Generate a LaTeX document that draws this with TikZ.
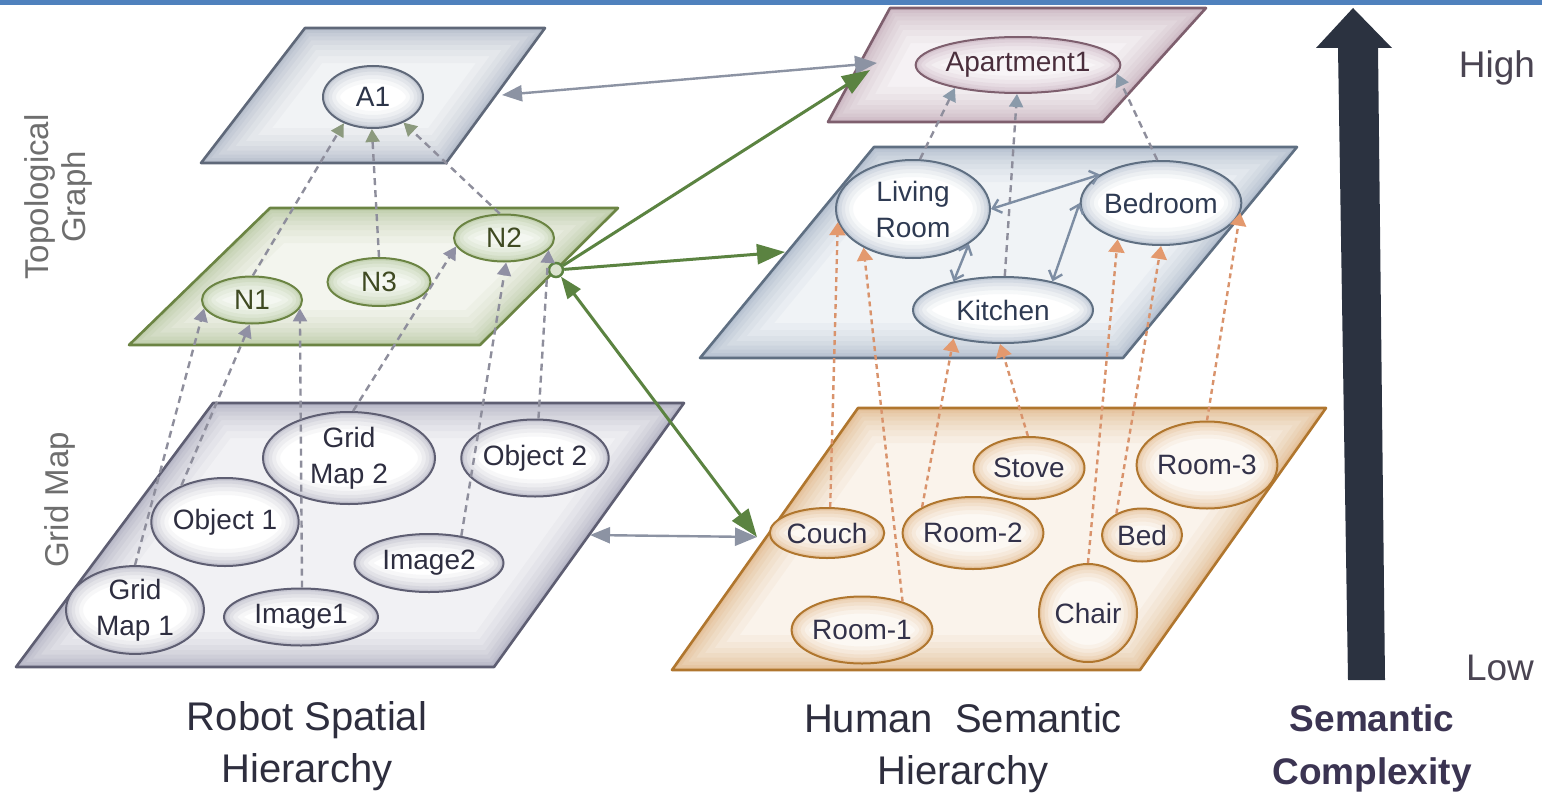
\documentclass[tikz,border=0pt]{standalone}
\usepackage{fontspec}
\setmainfont{Liberation Sans}
\usetikzlibrary{shapes.geometric,arrows.meta,calc}
\definecolor{topbar}{HTML}{4F81BD}
\definecolor{gridedge}{HTML}{5E5E72}\definecolor{gridglow}{HTML}{9C9CB2}
\definecolor{gredge}{HTML}{6B8443}\definecolor{grglow}{HTML}{A6BA88}
\definecolor{aoneedge}{HTML}{5F6879}\definecolor{aoneglow}{HTML}{9CA6B9}
\definecolor{apedge}{HTML}{7E5F6E}\definecolor{apglow}{HTML}{BA9EAD}
\definecolor{lvedge}{HTML}{5F6F82}\definecolor{lvglow}{HTML}{98A9BE}
\definecolor{huedge}{HTML}{B0762E}\definecolor{huglow}{HTML}{DDA86E}
\definecolor{gridtext}{HTML}{2E2E40}\definecolor{grtext}{HTML}{3F4A22}
\definecolor{aonetext}{HTML}{2C3448}\definecolor{aptext}{HTML}{4A2E3C}
\definecolor{lvtext}{HTML}{2E3A52}\definecolor{hutext}{HTML}{33324A}
\definecolor{dashgray}{HTML}{8E8E9C}\definecolor{headgreen}{HTML}{8C9A7E}
\definecolor{headgray}{HTML}{9090A4}\definecolor{headblue}{HTML}{8A9AAA}
\definecolor{dorange}{HTML}{D9936C}\definecolor{headorange}{HTML}{E3996E}
\definecolor{solgreen}{HTML}{5B8341}\definecolor{solgray}{HTML}{8C93A3}
\definecolor{lvline}{HTML}{7D8DA3}\definecolor{navy}{HTML}{2B3240}
\definecolor{labtext}{HTML}{2E2E3E}\definecolor{semtext}{HTML}{3B3452}
\definecolor{sidetext}{HTML}{6E6E6E}\definecolor{hltext}{HTML}{4A4452}
\newcommand\mylbl{\fontsize{28bp}{36bp}\selectfont}
\newcommand\glowplane[6]{%
  \begin{scope}
    \clip #1 -- #2 -- #3 -- #4 -- cycle;
    \fill[#5!14] #1 -- #2 -- #3 -- #4 -- cycle;
    \foreach \w/\o in {70/.07,56/.08,44/.09,34/.1,25/.12,17/.14,10/.17,5/.22}{
      \draw[#5, line width=\w bp, opacity=\o, line join=round] #1 -- #2 -- #3 -- #4 -- cycle;}
  \end{scope}
  \draw[#6, line width=2.6bp, line join=round] #1 -- #2 -- #3 -- #4 -- cycle;}
\tikzset{
  glowell/.style={path picture={
    \foreach \w/\o in {34/.08,26/.1,18/.13,11/.17,5/.25}{
      \draw[#1, line width=\w bp, opacity=\o]
        let \p1=($(path picture bounding box.north east)-(path picture bounding box.center)$) in
        (path picture bounding box.center) ellipse [x radius=\x1, y radius=\y1];}
  }},
  basenode/.style={ellipse, inner sep=0pt, line width=2bp, align=center, font=\mylbl, fill=white},
  gnode/.style={basenode, draw=gridedge, glowell=gridglow, text=gridtext},
  nnode/.style={basenode, draw=gredge, glowell=grglow, text=grtext, fill=grglow!12},
  anode/.style={basenode, draw=aoneedge, glowell=aoneglow, text=aonetext},
  pnode/.style={basenode, draw=apedge, glowell=apglow, text=aptext, fill=apglow!10},
  lnode/.style={basenode, draw=lvedge, glowell=lvglow, text=lvtext},
  hnode/.style={basenode, draw=huedge, glowell=huglow, text=hutext, fill=huglow!8},
  dgA/.style={draw=dashgray, line width=2.4bp, dash pattern=on 7bp off 5bp, -{Triangle[length=13bp,width=14bp,color=headgreen]}},
  dgN/.style={draw=dashgray, line width=2.4bp, dash pattern=on 7bp off 5bp, -{Triangle[length=13bp,width=14bp,color=headgray]}},
  dgP/.style={draw=dashgray, line width=2.4bp, dash pattern=on 7bp off 5bp, -{Triangle[length=13bp,width=14bp,color=headblue]}},
  dor/.style={draw=dorange, line width=2.4bp, dash pattern=on 5bp off 4bp, -{Triangle[length=13bp,width=16bp,color=headorange]}},
  grn/.style={draw=solgreen, line width=3bp, -{Triangle[length=28bp,width=20bp]}},
  grnb/.style={draw=solgreen, line width=3bp, {Triangle[length=22bp,width=16bp]}-{Triangle[length=28bp,width=20bp]}},
  gsol/.style={draw=solgray, line width=2.4bp, {Triangle[length=20bp,width=16bp]}-{Triangle[length=22bp,width=18bp]}},
  lvl/.style={draw=lvline, line width=2.4bp, {Straight Barb[length=8bp,width=14bp]}-{Straight Barb[length=8bp,width=14bp]}},
  bottomlab/.style={align=center, text=labtext, font=\fontsize{40bp}{52bp}\selectfont},
  sidelab/.style={align=center, text=sidetext, rotate=90, font=\fontsize{33bp}{37bp}\selectfont}
}
\begin{document}
\begin{tikzpicture}[x=1bp,y=-1bp]
\useasboundingbox (0,0) rectangle (1542,799);
\fill[white] (0,0) rectangle (1542,799);
\fill[topbar] (0,0) rectangle (1542,5);

% planes
\glowplane{(305,28)}{(545,28)}{(446,163)}{(201,163)}{aoneglow}{aoneedge}
\glowplane{(270,208)}{(618,208)}{(480,345)}{(129,345)}{grglow}{gredge}
\glowplane{(213,403)}{(684,403)}{(494,667)}{(16,667)}{gridglow}{gridedge}
\glowplane{(890,8)}{(1206,8)}{(1103,122)}{(828,122)}{apglow}{apedge}
\glowplane{(874,147)}{(1297,147)}{(1123,358)}{(700,358)}{lvglow}{lvedge}
\glowplane{(858,408)}{(1326,408)}{(1140,670)}{(672,670)}{huglow}{huedge}

% side labels
\node[sidelab] (toplab) at (58,197) {Topological\\Graph};
\node[sidelab] (gridlab) at (60,500) {Grid Map};

% robot nodes
\node[anode, minimum width=100bp, minimum height=62bp] (a1) at (373,97) {A1};
\node[nnode, minimum width=100bp, minimum height=47bp] (n1) at (252,300) {N1};
\node[nnode, minimum width=103bp, minimum height=48bp] (n3) at (379,282) {N3};
\node[nnode, minimum width=100bp, minimum height=47bp] (n2) at (504,238) {N2};
\node[gnode, minimum width=172bp, minimum height=92bp] (gm2) at (349,458) {Grid\\Map 2};
\node[gnode, minimum width=133bp, minimum height=77bp] (ob2) at (535,458) {Object 2};
\node[gnode, minimum width=133bp, minimum height=88bp] (ob1) at (225,522) {Object 1};
\node[gnode, minimum width=149bp, minimum height=58bp] (im2) at (429,563) {Image2};
\node[gnode, minimum width=138bp, minimum height=68bp] (gm1) at (135,610) {Grid\\Map 1};
\node[gnode, minimum width=154bp, minimum height=57bp] (im1) at (301,617) {Image1};

% human nodes
\node[pnode, minimum width=172bp, minimum height=56bp] (apt) at (1018,65) {Apartment1};
\node[lnode, minimum width=154bp, minimum height=98bp] (liv) at (913,209) {Living\\Room};
\node[lnode, minimum width=160bp, minimum height=84bp] (bed) at (1161,203) {Bedroom};
\node[lnode, minimum width=180bp, minimum height=66bp] (kit) at (1003,310) {Kitchen};
\node[hnode, minimum width=108bp, minimum height=50bp] (couch) at (827,533) {Couch};
\node[hnode, minimum width=130bp, minimum height=67bp] (room1) at (862,630) {Room-1};
\node[hnode, minimum width=134bp, minimum height=72bp] (room2) at (973,533) {Room-2};
\node[hnode, minimum width=111bp, minimum height=62bp] (stove) at (1029,468) {Stove};
\node[hnode, minimum width=98bp, minimum height=98bp] (chair) at (1088,613) {Chair};
\node[hnode, minimum width=80bp, minimum height=53bp] (bednode) at (1142,535) {Bed};
\node[hnode, minimum width=130bp, minimum height=87bp] (room3) at (1207,465) {Room-3};

% coordinates on plane edges
\coordinate (aoneE) at (502,95);
\coordinate (apW1) at (877,63);
\coordinate (apW2) at (870,70);
\coordinate (lvW) at (785,252);
\coordinate (gridE) at (590,535);
\coordinate (huW) at (757,537);
\node[circle, draw=solgreen, fill=grglow!40, line width=2.5bp, minimum size=14bp, inner sep=0pt] (hub) at (556,270) {};

% N -> A1
\draw[dgA] (n1.88) -- (a1.222);
\draw[dgA] (n3.north) -- (a1.268);
\draw[dgA] (n2.100) -- (a1.320);

% grid -> N
\draw[dgN] (gm1.north) -- (n1.190);
\draw[dgN] (ob1.140) -- (n1.265);
\draw[dgN] (im1.88) -- (n1.350);
\draw[dgN] (gm2.85) -- (n2.190);
\draw[dgN] (im2.40) -- (n2.275);
\draw[dgN] (ob2.85) -- (n2.345);

% living -> apartment
\draw[dgP] (liv.82) -- (apt.200);
\draw[dgP] (kit.87) -- (apt.268);
\draw[dgP] (bed.95) -- (apt.355);

% living plane solid
\draw[lvl] (liv.328) -- (kit.150);
\draw[lvl] (liv.0) -- (bed.155);
\draw[lvl] (bed.180) -- (kit.30);

% human -> living
\draw[dor] (couch.83) -- (liv.190);
\draw[dor] (room1.35) -- (liv.218);
\draw[dor] (room2.153) -- (kit.210);
\draw[dor] (stove.92) -- (kit.265);
\draw[dor] (chair.north) -- (bed.220);
\draw[dor] (bednode.140) -- (bed.270);
\draw[dor] (room3.north) -- (bed.353);

% between hierarchies
\draw[gsol] (aoneE) -- (apW1);
\draw[gsol] (gridE) -- (huW);
\draw[grn] (hub) -- (apW2);
\draw[grn] (hub) -- (lvW);
\draw[grnb] (hub) -- (huW);

% semantic complexity arrow
\fill[navy] (1353,8) -- (1392,48) -- (1378,48) -- (1385,680) -- (1348,680) -- (1338,48) -- (1316,48) -- cycle;
\node[text=hltext, font=\fontsize{37bp}{40bp}\selectfont] (high) at (1497,68) {High};
\node[text=hltext, font=\fontsize{37bp}{40bp}\selectfont] (low) at (1500,668) {Low};

% bottom labels
\node[bottomlab] (robotlab) at (307,746) {Robot Spatial\\Hierarchy};
\node[bottomlab] (humanlab) at (963,748) {Human\ \ Semantic\\Hierarchy};
\node[align=center, text=semtext, font=\bfseries\fontsize{37bp}{53bp}\selectfont] (semlab) at (1372,748) {Semantic\\Complexity};
\end{tikzpicture}
\end{document}
